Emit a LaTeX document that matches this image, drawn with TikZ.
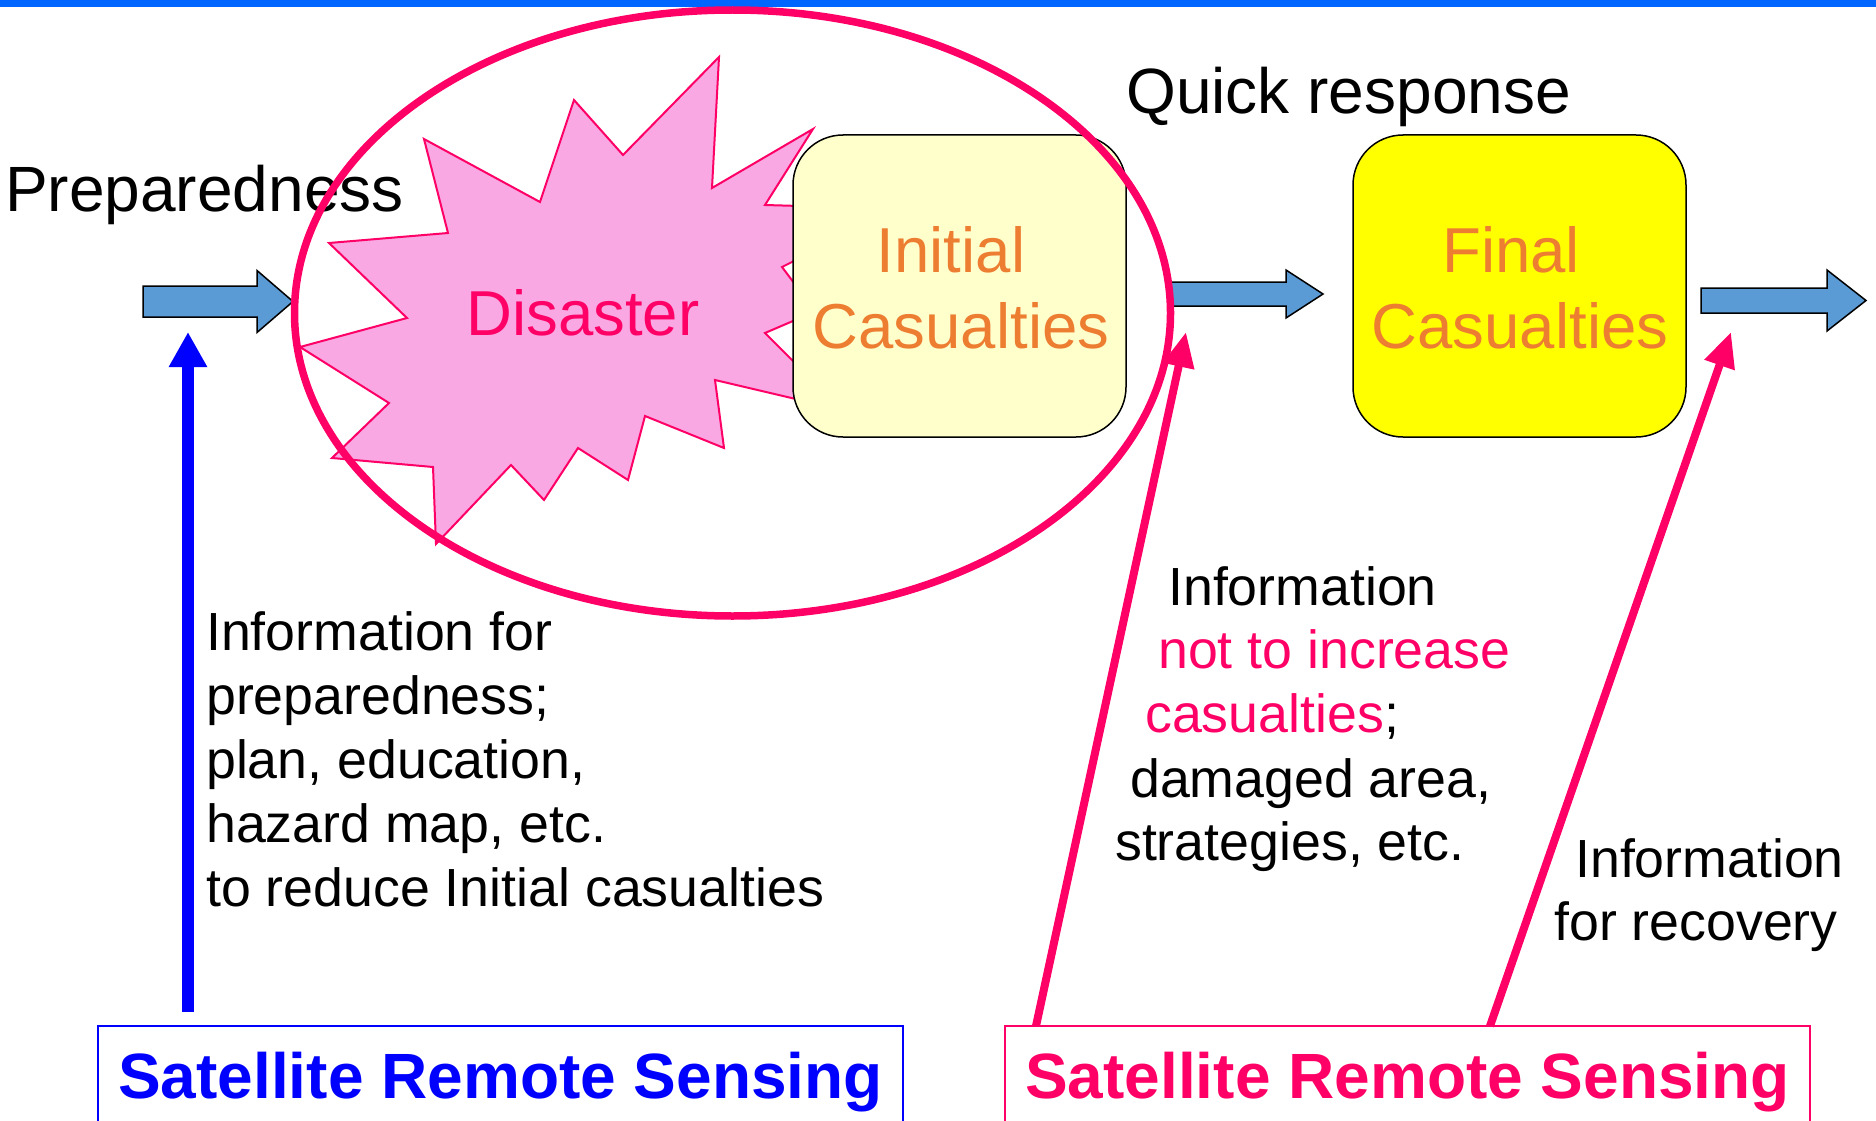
\documentclass[tikz,border=0pt]{standalone}
\usepackage{fontspec}
\setmainfont{Liberation Sans}
\usetikzlibrary{arrows.meta,shapes.geometric}
\definecolor{mag}{RGB}{255,0,102}
\definecolor{starpink}{RGB}{249,168,228}
\definecolor{ltyellow}{RGB}{255,255,204}
\definecolor{boxorange}{RGB}{237,125,49}
\definecolor{arrowblue}{RGB}{91,155,213}
\definecolor{topblue}{RGB}{0,102,255}
\definecolor{pureblue}{RGB}{0,0,255}
\definecolor{pureyellow}{RGB}{255,255,0}
\newcommand\blkarrow[6]{%
  \draw[blockarrow] (#1,#4-#5) -- (#2,#4-#5) -- (#2,#4-#6) -- (#3,#4)
    -- (#2,#4+#6) -- (#2,#4+#5) -- (#1,#4+#5) -- cycle;}
\begin{document}
\begin{tikzpicture}[x=1pt,y=-1pt,
  bigtxt/.style={inner sep=0pt, anchor=base west, font=\fontsize{64}{76}\selectfont},
  infotxt/.style={inner sep=0pt, anchor=base west, font=\fontsize{53.7}{64}\selectfont},
  boxtxt/.style={inner sep=0pt, anchor=base, text=boxorange, font=\fontsize{63.5}{76}\selectfont},
  stagebox/.style={draw=black, line width=1.5pt, rounded corners=50pt, inner sep=0pt,
    minimum width=333pt, minimum height=302pt},
  blockarrow/.style={fill=arrowblue, draw=black, line width=1.5pt, line join=miter},
  infoblue/.style={draw=pureblue, line width=12pt, -{Triangle[width=36pt,length=35pt]}},
  infomag/.style={draw=mag, line width=8pt, -{Triangle[width=30pt,length=35pt]}},
  srsbox/.style={line width=2.5pt, inner sep=0pt, minimum width=805pt, minimum height=100pt,
    text height=45pt, text depth=0pt, font=\bfseries\fontsize{64}{76}\selectfont}]
\useasboundingbox (0,0) rectangle (1876,1121);
% top bar
\fill[topblue] (0,0) rectangle (1876,7);
% starburst
\draw[mag, fill=starpink, line width=2pt, line join=miter]
  (719,57) -- (712,188) -- (813,129) -- (765,205) -- (800,206) -- (800,258)
  -- (782,267) -- (800,291) -- (800,318) -- (765,333) -- (800,368) -- (800,400)
  -- (715,380) -- (724,448) -- (645,416) -- (628,480) -- (578,448) -- (544,500)
  -- (511,465) -- (436,544) -- (433,467) -- (332,458) -- (389,403) -- (300,347)
  -- (407,318) -- (329,243) -- (448,233) -- (424,139) -- (540,202) -- (574,100)
  -- (623,155) -- cycle;
% stage boxes
\node[stagebox, fill=ltyellow] (initial) at (959.5,286) {};
\node[stagebox, fill=pureyellow] (final) at (1519.5,286) {};
\node[boxtxt] (initA) at (951,272) {Initial};
\node[boxtxt] (initB) at (961,348) {Casualties};
\node[boxtxt] (finA) at (1511,272) {Final};
\node[boxtxt] (finB) at (1520,348) {Casualties};
% block arrows
\blkarrow{143}{257}{293}{301.5}{15.5}{31}
\blkarrow{1168}{1286}{1323}{294}{12}{24}
\blkarrow{1701}{1827}{1866}{300.5}{12.5}{30.5}
% texts
\node[bigtxt] (prep) at (5,211) {Preparedness};
\node[bigtxt] (quick) at (1126,114) {Quick response};
\node[inner sep=0pt, anchor=base, text=mag, font=\fontsize{63.5}{76}\selectfont] (dis) at (583,335) {Disaster};
% ellipse
\node[ellipse, draw=mag, line width=7.5pt, inner sep=0pt, minimum width=876pt, minimum height=606pt] (impact) at (732.5,313) {};
% left info
\node[infotxt] (l1) at (206,650) {Information for};
\node[infotxt] (l2) at (206,714) {preparedness;};
\node[infotxt] (l3) at (206,778) {plan, education,};
\node[infotxt] (l4) at (206,842) {hazard map, etc.};
\node[infotxt] (l5) at (206,906) {to reduce Initial casualties};
% middle info
\node[infotxt] (m1) at (1168,605) {Information};
\node[infotxt, text=mag] (m2) at (1158,668) {not to increase};
\node[infotxt] (m3) at (1145,732) {\textcolor{mag}{casualties};};
\node[infotxt] (m4) at (1130,797) {damaged area,};
\node[infotxt] (m5) at (1115,860) {strategies, etc.};
% right info
\node[infotxt] (r1) at (1575,877) {Information};
\node[infotxt] (r2) at (1554,940) {for recovery};
% bottom boxes
\node[srsbox, draw=pureblue, text=pureblue] (srs1) at (500.5,1076) {Satellite Remote Sensing};
\node[srsbox, draw=mag, text=mag] (srs2) at (1407.5,1076) {Satellite Remote Sensing};
% info arrows
\coordinate (bb) at (188,1012);
\coordinate (bt) at (188,332);
\coordinate (ma) at (1036,1026);
\coordinate (mat) at (1186,332);
\coordinate (mb) at (1490,1026);
\coordinate (mbt) at (1731,332);
\draw[infoblue] (bb) -- (bt);
\draw[infomag] (ma) -- (mat);
\draw[infomag] (mb) -- (mbt);
\end{tikzpicture}
\end{document}
